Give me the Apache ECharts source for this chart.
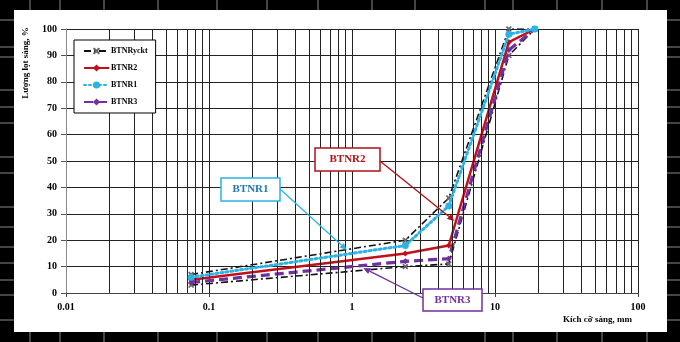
<!DOCTYPE html>
<html><head><meta charset="utf-8">
<script src="https://cdn.jsdelivr.net/npm/echarts@6/dist/echarts.min.js"></script>
<style>html,body{margin:0;padding:0;background:#000;}#c{width:680px;height:342px;}</style>
</head><body><div id="c"></div>
<script>
// ---- data ----
const sieve = [0.075, 2.36, 4.75, 12.5, 19];
const ycktUpper = [7, 20, 36, 100, 100];
const ycktLower = [3, 10, 11, 90, 100];
const btnr2 = [5, 15, 18, 95, 100];
const btnr1 = [6, 18, 33, 98, 100];
const btnr3 = [4, 12, 13, 92, 100];
const xMajorTicks = [0.01, 0.1, 1, 10, 100];
const xMinorTicks = [0.02,0.03,0.04,0.05,0.06,0.07,0.08,0.09,0.2,0.3,0.4,0.5,0.6,0.7,0.8,0.9,2,3,4,5,6,7,8,9,20,30,40,50,60,70,80,90];
const yTicks = [0,10,20,30,40,50,60,70,80,90,100];
const seriesNames = ['BTNRyckt','BTNR2','BTNR1','BTNR3'];
const yName = 'Lượng lọt sàng, %';
const xName = 'Kích cỡ sàng, mm';

const pairs = v => sieve.map((s, i) => [s, v[i]]);
const FONT = '"Liberation Serif","Times New Roman",serif';
const xMark = 'path://M2,0 L5,3 L8,0 L10,2 L7,5 L10,8 L8,10 L5,7 L2,10 L0,8 L3,5 L0,2 Z';

const chart = echarts.init(document.getElementById('c'), null, {renderer:'canvas'});

// decorative frame
const deco = [{type:'rect', shape:{x:14,y:10,width:653,height:322}, style:{fill:'#fff'}, z:-100, silent:true}];
const topMarks = [30,60,104,158,217,267,318,372,415,485,513,557,602,647];
topMarks.forEach(x => {
  deco.push({type:'line', shape:{x1:x,y1:0,x2:x,y2:10}, style:{stroke:'#8a8a8a',lineWidth:1}, z:-99, silent:true});
  deco.push({type:'line', shape:{x1:x,y1:332,x2:x,y2:342}, style:{stroke:'#8a8a8a',lineWidth:1}, z:-99, silent:true});
});
const sideMarks = [20,47,57,90,107,123,157,173,207,227,247,263,280,295,320];
sideMarks.forEach(y => {
  deco.push({type:'line', shape:{x1:0,y1:y,x2:14,y2:y}, style:{stroke:'#8a8a8a',lineWidth:1}, z:-99, silent:true});
  deco.push({type:'line', shape:{x1:667,y1:y,x2:680,y2:y}, style:{stroke:'#8a8a8a',lineWidth:1}, z:-99, silent:true});
});
deco.push({type:'text', x:26, y:63, rotation:Math.PI/2, style:{text:yName, font:'bold 9px '+FONT, fill:'#000', align:'center', verticalAlign:'middle'}, z:5});
deco.push({type:'text', x:632, y:320, style:{text:xName, font:'bold 9px '+FONT, fill:'#000', align:'right', verticalAlign:'middle'}, z:5});

const option = {
  animation:false,
  backgroundColor:'transparent',
  grid:{left:66, right:42, top:29, bottom:49},
  legend:{
    data:seriesNames, orient:'vertical', left:74, top:40,
    padding:[7,8,7,9], itemGap:9, itemWidth:25, itemHeight:9,
    borderColor:'#000', borderWidth:1, backgroundColor:'#fff',
    textStyle:{fontFamily:FONT, fontWeight:'bold', fontSize:8, color:'#000', padding:[0,0,0,-3]},
    z:10
  },
  xAxis:{
    type:'log', logBase:10, min:0.01, max:100,
    axisLine:{show:true, onZero:false, lineStyle:{color:'#444', width:1}},
    axisTick:{show:true, length:4, lineStyle:{color:'#444'}},
    splitLine:{show:true, lineStyle:{color:'#222', width:1}},
    axisLabel:{margin:9, fontFamily:FONT, fontWeight:'bold', fontSize:10, color:'#000',
      formatter: v => { const t = xMajorTicks.find(m => Math.abs(Math.log10(m/v)) < 0.01); return t === undefined ? '' : String(t); }}
  },
  yAxis:{
    type:'value', min:0, max:100, interval:10,
    axisLine:{show:true, lineStyle:{color:'#888', width:1}},
    axisTick:{show:true, length:5, lineStyle:{color:'#555'}},
    splitLine:{show:true, lineStyle:{color:'#222', width:1}},
    axisLabel:{margin:9, fontFamily:FONT, fontWeight:'bold', fontSize:10, color:'#000',
      formatter: v => yTicks.includes(v) ? String(v) : ''}
  },
  graphic: deco,
  series:[
    {type:'line', name:'_grid', data:[], silent:true, z:1,
      markLine:{silent:true, symbol:'none', label:{show:false}, animation:false,
        lineStyle:{color:'#222', width:1, type:'solid'},
        data: xMinorTicks.map(v => ({xAxis:v}))}},
    {type:'line', name:'BTNRyckt', data:pairs(ycktUpper), z:3,
      symbol:xMark, symbolSize:6, itemStyle:{color:'#666'},
      lineStyle:{color:'#111', width:1.6, type:[7,3,2,3]}},
    {type:'line', name:'BTNRyckt', data:pairs(ycktLower), z:3,
      symbol:xMark, symbolSize:6, itemStyle:{color:'#666'},
      lineStyle:{color:'#111', width:1.6, type:[7,3,2,3]}},
    {type:'line', name:'BTNR2', data:pairs(btnr2), z:4,
      symbol:'diamond', symbolSize:6, itemStyle:{color:'#c0101a'},
      lineStyle:{color:'#c0101a', width:2.5, type:'solid'}},
    {type:'line', name:'BTNR1', data:pairs(btnr1), z:5,
      symbol:'circle', symbolSize:7, itemStyle:{color:'#2bb3e6'},
      lineStyle:{color:'#2bb3e6', width:3, type:[2,3], cap:'round'}},
    {type:'line', name:'BTNR3', data:pairs(btnr3), z:4,
      symbol:'diamond', symbolSize:6, itemStyle:{color:'#7030a0'},
      lineStyle:{color:'#7030a0', width:3.2, type:[9,5]}}
  ]
};
chart.setOption(option);

// annotations: boxes (layout, px) with arrows pointing at data coordinates
const notes = [
  {text:'BTNR1', box:[221,178,59,23], from:[280,189], to:[0.92,16.3], stroke:'#2bb3e6', fill:'#1f78b0'},
  {text:'BTNR2', box:[315,148,65,23], from:[380,161], to:[5.2,27.3], stroke:'#b01018', fill:'#b01018'},
  {text:'BTNR3', box:[423,289,59,22], from:[423,298], to:[1.2,9.5], stroke:'#7030a0', fill:'#7030a0'}
];
const g = deco.slice();
notes.forEach(n => {
  const [x,y,w,h] = n.box;
  g.push({type:'rect', shape:{x:x,y:y,width:w,height:h}, style:{fill:'#fff', stroke:n.stroke, lineWidth:1.5}, z:20});
  g.push({type:'text', x:x+w/2, y:y+h/2, style:{text:n.text, font:'bold 11px '+FONT, fill:n.fill, align:'center', verticalAlign:'middle'}, z:21});
  const p = chart.convertToPixel({gridIndex:0}, n.to);
  const [x1,y1] = n.from, x2 = p[0], y2 = p[1];
  const ang = Math.atan2(y2-y1, x2-x1), L = 7, W = 3.2;
  const bx = x2 - L*Math.cos(ang), by = y2 - L*Math.sin(ang);
  g.push({type:'line', shape:{x1:x1,y1:y1,x2:bx,y2:by}, style:{stroke:n.stroke, lineWidth:1.3}, z:20});
  g.push({type:'polygon', shape:{points:[[x2,y2],[bx - W*Math.sin(ang), by + W*Math.cos(ang)],[bx + W*Math.sin(ang), by - W*Math.cos(ang)]]}, style:{fill:n.stroke}, z:20});
});
chart.setOption({graphic: g}, {replaceMerge:['graphic']});
</script></body></html>
